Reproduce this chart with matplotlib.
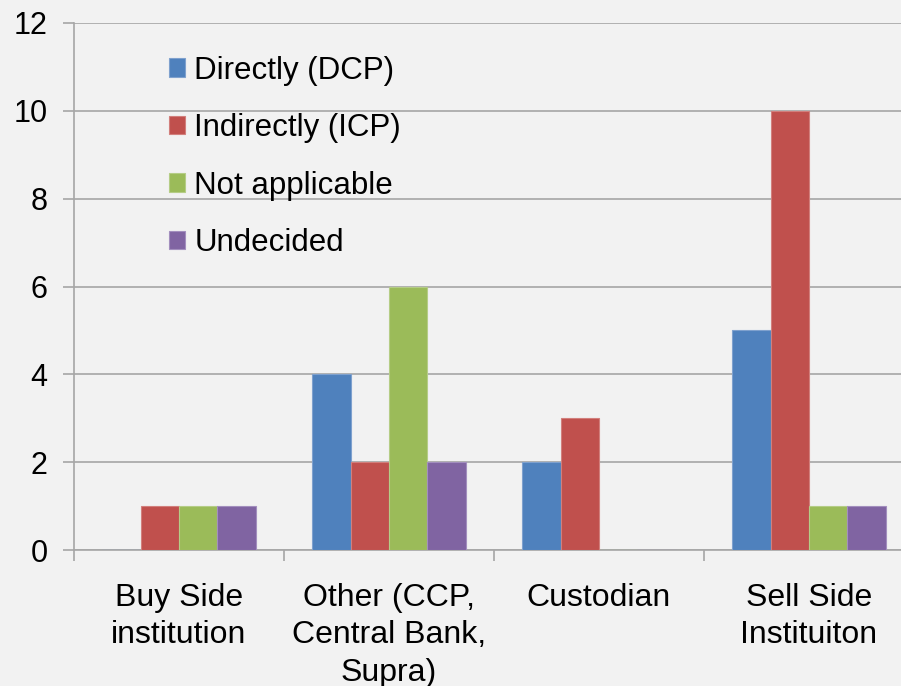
import numpy as np
import matplotlib.pyplot as plt

# data
categories = ['Buy Side\ninstitution', 'Other (CCP,\nCentral Bank,\nSupra)',
              'Custodian', 'Sell Side\nInstituiton']
series_names = ['Directly (DCP)', 'Indirectly (ICP)', 'Not applicable', 'Undecided']
directly = [0, 4, 2, 5]
indirectly = [1, 2, 3, 10]
not_applicable = [1, 6, 0, 1]
undecided = [1, 2, 0, 1]
yticks = [0, 2, 4, 6, 8, 10, 12]

colors = ['#4F81BD', '#C0504D', '#9BBB59', '#8064A2']
edges = ['#7FA1CE', '#D27F7C', '#B5CD86', '#A38FBE']

plt.rcParams['font.family'] = ['Liberation Sans', 'DejaVu Sans']

fig = plt.figure(figsize=(9.01, 6.86), dpi=100, facecolor='#F2F2F2')
ax = fig.add_axes([74 / 901, 136 / 686, 840 / 901, 527 / 686])
ax.set_facecolor('#F2F2F2')

x = np.arange(len(categories))
width = 0.1833
all_series = [directly, indirectly, not_applicable, undecided]
for i, vals in enumerate(all_series):
    ax.bar(x + (i - 1.5) * width, vals, width, color=colors[i], label=series_names[i],
           edgecolor=edges[i], linewidth=0.8, zorder=3)

ax.set_xlim(-0.5, len(categories) - 0.5)
ax.set_ylim(0, 12)
ax.set_yticks(yticks)
ax.yaxis.grid(True, color='#A6A6A6', linewidth=1.2, zorder=0)
ax.set_axisbelow(True)

# category ticks sit between the groups
ax.set_xticks(np.arange(len(categories) + 1) - 0.5, minor=False)
ax.set_xticklabels([])
ax.set_xticks(x, minor=True)
ax.set_xticklabels(categories, minor=True, fontsize=23, linespacing=1.31)
ax.tick_params(axis='x', which='minor', length=0, pad=24)
ax.tick_params(axis='x', which='major', length=8, color='#A6A6A6', width=1.2)
ax.tick_params(axis='y', length=8, color='#A6A6A6', width=1.2, labelsize=22, pad=11)

for side in ['top', 'right']:
    ax.spines[side].set_visible(False)
for side in ['left', 'bottom']:
    ax.spines[side].set_color('#A6A6A6')
    ax.spines[side].set_linewidth(1.2)

ax.legend(loc='upper left', bbox_to_anchor=(153 / 901, 1 - 40 / 686),
          bbox_transform=fig.transFigure, frameon=False, fontsize=22.5,
          handlelength=0.52, handleheight=0.52, handletextpad=0.3,
          labelspacing=0.88, borderpad=0)

fig.savefig('out.png', dpi=100, facecolor=fig.get_facecolor())
